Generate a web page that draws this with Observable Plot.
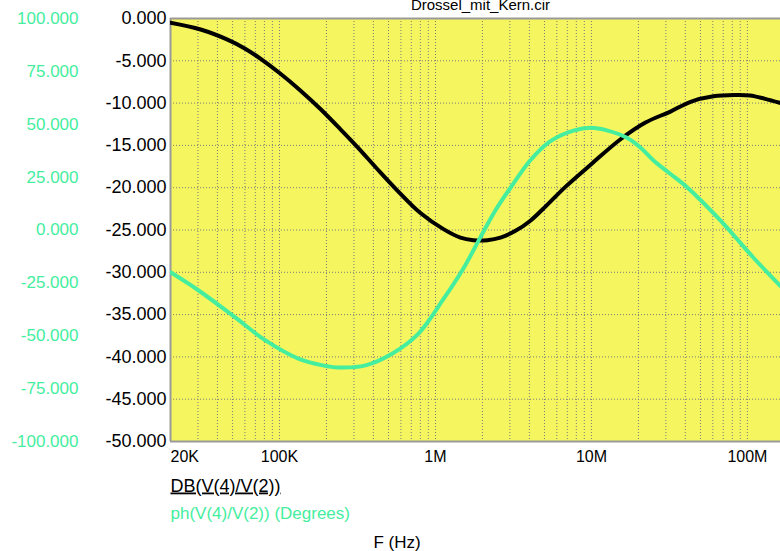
<!DOCTYPE html>
<html><head><meta charset="utf-8">
<script src="https://cdn.jsdelivr.net/npm/d3@7"></script>
<script src="https://cdn.jsdelivr.net/npm/@observablehq/plot@0.6"></script>
<style>html,body{margin:0;padding:0;background:#fff;overflow:hidden}</style>
</head><body><div id="chart"></div>
<script>
const title = "Drossel_mit_Kern.cir";
const legendDb = "DB(V(4)/V(2))";
const legendPh = "ph(V(4)/V(2)) (Degrees)";
const xLabel = "F (Hz)";

// DB(V(4)/V(2)) trace
const dbFreq = [20e3, 31.2e3, 46.4e3, 60.6e3, 78.9e3, 101e3, 136e3, 183e3, 246e3, 316e3, 419e3, 554e3, 801e3, 1.125e6, 1.445e6, 1.75e6, 2.15e6, 2.61e6, 3.26e6, 4.06e6, 5.22e6, 6.81e6, 10e6, 15.3e6, 22.2e6, 32.1e6, 43.2e6, 60.5e6, 83.8e6, 104e6, 130e6, 163e6];
const dbVal  = [-0.5, -1.3, -2.5, -3.6, -5.0, -6.5, -8.5, -10.7, -13.1, -15.2, -17.7, -20.1, -23.0, -24.9, -25.9, -26.2, -26.2, -25.9, -25.1, -23.9, -22.0, -19.9, -17.2, -14.3, -12.3, -11.0, -9.85, -9.2, -9.05, -9.1, -9.5, -10.0];

// ph(V(4)/V(2)) trace, degrees
const phFreq = [20e3, 30.3e3, 50e3, 81.3e3, 132e3, 189e3, 239e3, 356e3, 530e3, 778e3, 1.11e6, 1.51e6, 1.94e6, 2.42e6, 3.03e6, 4.06e6, 5.46e6, 7.67e6, 9.86e6, 12.7e6, 17e6, 20.6e6, 24.9e6, 32.1e6, 41.2e6, 67.1e6, 109e6, 163e6];
const phVal  = [-20, -28.6, -40.4, -52.2, -60.8, -64, -65, -64, -58.4, -49, -33.3, -18.2, -3.5, 9.2, 20, 33, 42, 47, 48.3, 47, 43.5, 39, 33, 26.5, 20.1, 4.5, -13, -26.5];

const dbTicks = [0, -5, -10, -15, -20, -25, -30, -35, -40, -45, -50];
const phTicks = [100, 75, 50, 25, 0, -25, -50, -75, -100];
const freqTicks = [20e3, 1e5, 1e6, 1e7, 1e8];
const freqTickLabels = ["20K", "100K", "1M", "10M", "100M"];
const gridFreqs = [3e4,4e4,5e4,6e4,7e4,8e4,9e4,1e5,2e5,3e5,4e5,5e5,6e5,7e5,8e5,9e5,1e6,2e6,3e6,4e6,5e6,6e6,7e6,8e6,9e6,1e7,2e7,3e7,4e7,5e7,6e7,7e7,8e7,9e7,1e8];

const yellow = "#f5f55f";
const green = "#44ee9e";
const gridColor = "#7c7c7c";

// phase axis (+100..-100) shares the dB scale (0..-50)
const phToDb = p => (p - 100) / 4;
const dbToPh = v => v * 4 + 100;
const freqLabel = new Map(freqTicks.map((f, i) => [f, freqTickLabels[i]]));

const dbData = dbFreq.map((f, i) => ({f, v: dbVal[i]}));
const phData = phFreq.map((f, i) => ({f, v: phVal[i]}));

const chart = Plot.plot({
  width: 780, height: 551,
  marginTop: 18, marginLeft: 170, marginRight: 0, marginBottom: 110,
  style: {fontFamily: "'Liberation Sans', Arial, sans-serif", background: "#fff", color: "#000"},
  x: {type: "log", domain: [2e4, 1.63e8], label: null},
  y: {domain: [-50, 0], label: null},
  marks: [
    Plot.frame({fill: yellow, stroke: null}),
    Plot.gridX(gridFreqs, {stroke: gridColor, strokeOpacity: 1, strokeWidth: 1, strokeDasharray: "1,2"}),
    Plot.gridY(dbTicks.slice(1, -1), {stroke: gridColor, strokeOpacity: 1, strokeWidth: 1, strokeDasharray: "1,2"}),
    Plot.ruleX([2e4], {stroke: "#9a9a9a", strokeWidth: 2}),
    Plot.ruleY([0, -50], {stroke: "#9a9a9a", strokeWidth: 2}),
    Plot.line(dbData, {x: "f", y: "v", stroke: "#000", strokeWidth: 4, curve: "catmull-rom", clip: true}),
    Plot.line(phData, {x: "f", y: d => phToDb(d.v), stroke: green, strokeWidth: 4, curve: "catmull-rom", clip: true}),
    Plot.axisY(dbTicks, {anchor: "left", tickSize: 0, tickPadding: 4, label: null, tickFormat: d => d.toFixed(3), fontSize: 18, fill: "#000"}),
    Plot.axisY(phTicks.map(phToDb), {anchor: "left", tickSize: 0, tickPadding: 92, label: null, tickFormat: d => dbToPh(d).toFixed(3), fontSize: 17, fill: green}),
    Plot.axisX(freqTicks.slice(0, 1), {anchor: "bottom", tickSize: 0, tickPadding: 9, label: null, tickFormat: d => freqLabel.get(d), textAnchor: "start", fontSize: 16, fill: "#000"}),
    Plot.axisX(freqTicks.slice(1), {anchor: "bottom", tickSize: 0, tickPadding: 9, label: null, tickFormat: d => freqLabel.get(d), fontSize: 16, fill: "#000"}),
    Plot.text([title], {frameAnchor: "top", dx: 5, dy: -9, lineAnchor: "bottom", fontSize: 15, fill: "#000"}),
    Plot.text([legendDb], {frameAnchor: "bottom-left", dy: 50, lineAnchor: "bottom", textAnchor: "start", fontSize: 18, fill: "#000"}),
    Plot.text([legendPh], {frameAnchor: "bottom-left", dy: 77, lineAnchor: "bottom", textAnchor: "start", fontSize: 17, fill: green}),
    Plot.text([xLabel], {frameAnchor: "bottom-left", dx: 203, dy: 106, lineAnchor: "bottom", textAnchor: "start", fontSize: 17, fill: "#000"})
  ]
});
d3.select(chart).selectAll("text").filter(function() { return this.textContent === legendDb; }).attr("text-decoration", "underline");
document.getElementById("chart").appendChild(chart);
</script>
</body></html>
